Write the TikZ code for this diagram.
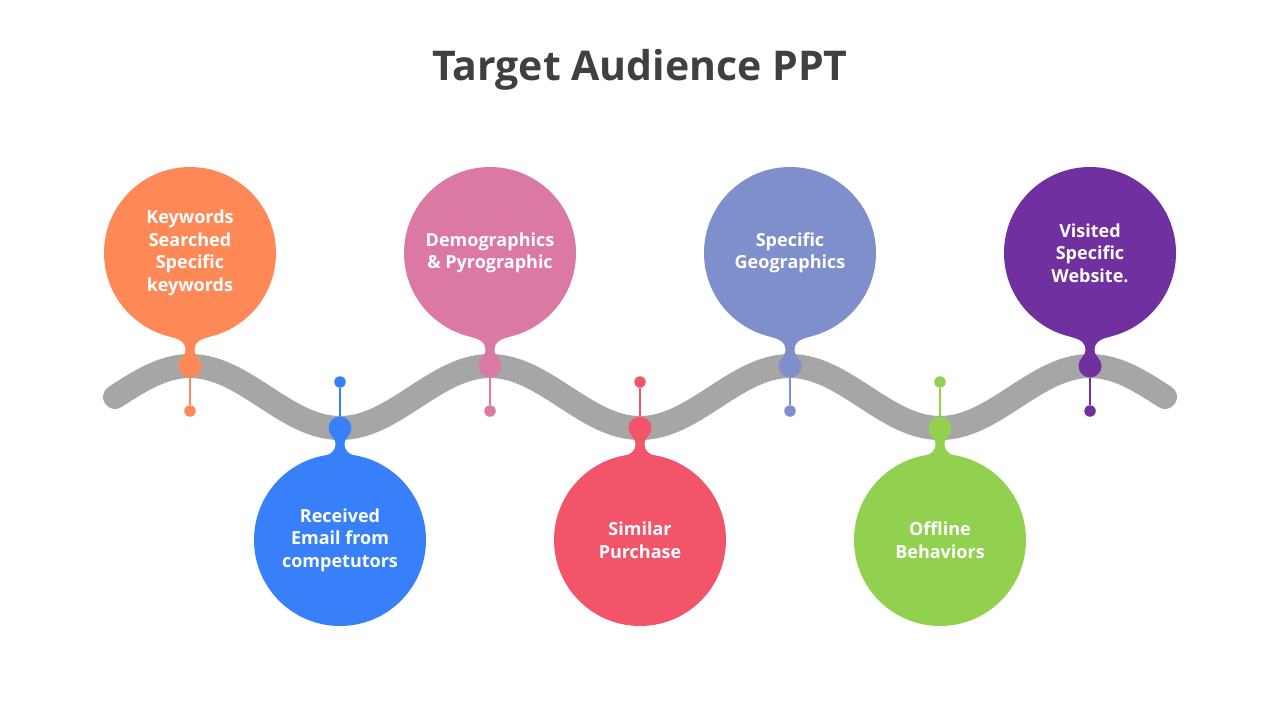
\documentclass[tikz,border=0pt]{standalone}
\usepackage{fontspec}
\setmainfont{Open Sans}
\usepackage{xcolor}
\usepackage{tikz}
\definecolor{naranja}{HTML}{FF8857}
\definecolor{azul}{HTML}{3780F9}
\definecolor{rosa}{HTML}{DB78A3}
\definecolor{rojo}{HTML}{F2546A}
\definecolor{lavanda}{HTML}{7F8FCC}
\definecolor{verde}{HTML}{92D050}
\definecolor{morado}{HTML}{7030A0}
\definecolor{grisonda}{HTML}{A6A6A6}
\definecolor{grist}{HTML}{404040}

% cuello: gota entre la burbuja y el punto sobre la onda
\newcommand{\cuello}[3]{%
  \fill[#2, shift={(#1)}, yscale=#3]
    (-20,-29.4) .. controls (-7,-26) and (-4.5,-22) .. (-4.5,-16)
    .. controls (-4.5,-12) and (-7,-10) .. (-8.7,-7.5) -- (8.7,-7.5)
    .. controls (7,-10) and (4.5,-12) .. (4.5,-16)
    .. controls (4.5,-22) and (7,-26) .. (20,-29.4) -- (0,-40) -- cycle;}

\begin{document}
\begin{tikzpicture}[
    x=1pt, y=-1pt,
    burbuja/.style={circle, minimum size=172pt, inner sep=0pt, text=white, align=center,
      font=\fontsize{18}{22.5}\selectfont\bfseries},
    nudo/.style={circle, minimum size=23pt, inner sep=0pt},
    punto/.style={circle, minimum size=11.5pt, inner sep=0pt},
    tallo/.style={line width=2.2pt},
    onda/.style={line width=24pt, grisonda, line cap=round}
]
\useasboundingbox (0,0) rectangle (1280,720);

\node (titulo) at (640,70) {\fontsize{41}{49}\selectfont\bfseries\color{grist}Target Audience PPT};

\draw[onda] plot[domain=115:1165, samples=250] (\x, {397-31*sin((\x-115)*1.2)});

\node (b1) [burbuja, fill=naranja] at (190,253) {Keywords\\Searched\\Specific\\keywords};
\node (b2) [burbuja, fill=azul] at (340,540) {Received\\Email from\\competutors};
\node (b3) [burbuja, fill=rosa] at (490,253) {Demographics\\\& Pyrographic};
\node (b4) [burbuja, fill=rojo] at (640,540) {Similar\\Purchase};
\node (b5) [burbuja, fill=lavanda] at (790,253) {Specific\\Geographics};
\node (b6) [burbuja, fill=verde] at (940,540) {Offline\\Behaviors};
\node (b7) [burbuja, fill=morado] at (1090,253) {Visited\\Specific\\Website.};

\node (n1) [nudo, fill=naranja] at (190,366) {};
\node (n2) [nudo, fill=azul] at (340,428) {};
\node (n3) [nudo, fill=rosa] at (490,366) {};
\node (n4) [nudo, fill=rojo] at (640,428) {};
\node (n5) [nudo, fill=lavanda] at (790,366) {};
\node (n6) [nudo, fill=verde] at (940,428) {};
\node (n7) [nudo, fill=morado] at (1090,366) {};

\node (p1) [punto, fill=naranja] at (190,411) {};
\node (p2) [punto, fill=azul] at (340,382) {};
\node (p3) [punto, fill=rosa] at (490,411) {};
\node (p4) [punto, fill=rojo] at (640,382) {};
\node (p5) [punto, fill=lavanda] at (790,411) {};
\node (p6) [punto, fill=verde] at (940,382) {};
\node (p7) [punto, fill=morado] at (1090,411) {};

\cuello{n1}{naranja}{1}
\cuello{n2}{azul}{-1}
\cuello{n3}{rosa}{1}
\cuello{n4}{rojo}{-1}
\cuello{n5}{lavanda}{1}
\cuello{n6}{verde}{-1}
\cuello{n7}{morado}{1}

\draw [tallo, naranja] (n1) -- (p1);
\draw [tallo, azul] (n2) -- (p2);
\draw [tallo, rosa] (n3) -- (p3);
\draw [tallo, rojo] (n4) -- (p4);
\draw [tallo, lavanda] (n5) -- (p5);
\draw [tallo, verde] (n6) -- (p6);
\draw [tallo, morado] (n7) -- (p7);

\end{tikzpicture}
\end{document}
